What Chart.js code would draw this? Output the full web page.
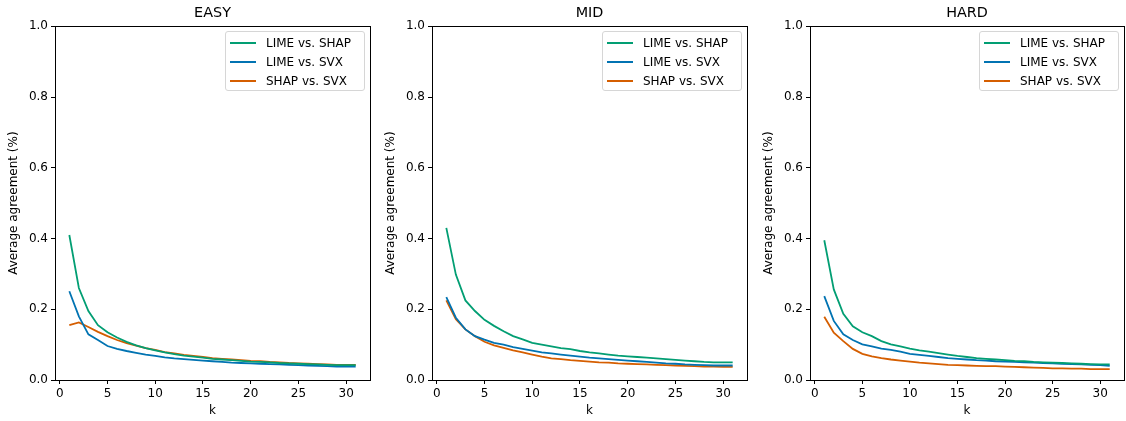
<!DOCTYPE html>
<html>
<head>
<meta charset="utf-8">
<script src="https://cdn.jsdelivr.net/npm/chart.js@4/dist/chart.umd.min.js"></script>
<style>
  body { margin: 0; background: #fff; }
  #wrap { position: relative; width: 1126px; height: 421px; overflow: hidden; font-family: "DejaVu Sans", sans-serif; }
  .panel { position: absolute; top: 0; height: 421px; }
  .legend {
    position: absolute; top: 31px; width: 138px; height: 58px;
    border: 1px solid #d6d6d6; border-radius: 3px; background: rgba(255,255,255,0.85);
    font-size: 12px; color: #000;
  }
  .legend .row { position: absolute; left: 0; height: 14px; line-height: 14px; white-space: nowrap; }
  .legend .sw { position: absolute; left: 4px; top: 6px; width: 26px; height: 2px; }
  .legend .lb { position: absolute; left: 40px; top: 0; }
</style>
</head>
<body>
<div id="wrap"></div>
<script>
// --- data ---
const kValues = [1,2,3,4,5,6,7,8,9,10,11,12,13,14,15,16,17,18,19,20,21,22,23,24,25,26,27,28,29,30,31];
const seriesNames = ['LIME vs. SHAP', 'LIME vs. SVX', 'SHAP vs. SVX'];
const panelTitles = ['EASY', 'MID', 'HARD'];
const yTicks = [0, 0.2, 0.4, 0.6, 0.8, 1.0];

const easyLimeShap = [0.41,0.26,0.195,0.155,0.135,0.12,0.108,0.098,0.09,0.084,0.078,0.073,0.069,0.066,0.063,0.060,0.058,0.056,0.054,0.052,0.051,0.050,0.048,0.047,0.046,0.045,0.044,0.043,0.042,0.042,0.042];
const easyLimeSvx  = [0.251,0.18,0.129,0.113,0.096,0.088,0.082,0.077,0.072,0.068,0.064,0.061,0.059,0.057,0.055,0.053,0.051,0.049,0.048,0.047,0.046,0.045,0.044,0.043,0.042,0.041,0.040,0.039,0.038,0.038,0.038];
const easyShapSvx  = [0.155,0.163,0.15,0.136,0.124,0.113,0.104,0.097,0.09,0.085,0.079,0.075,0.071,0.068,0.065,0.062,0.060,0.058,0.056,0.054,0.053,0.051,0.050,0.048,0.047,0.046,0.045,0.044,0.043,0.043,0.043];

const midLimeShap = [0.43,0.298,0.225,0.195,0.17,0.153,0.138,0.124,0.115,0.105,0.100,0.095,0.090,0.087,0.082,0.078,0.075,0.072,0.069,0.067,0.065,0.063,0.061,0.059,0.057,0.055,0.053,0.051,0.050,0.050,0.050];
const midLimeSvx  = [0.234,0.176,0.143,0.124,0.114,0.105,0.100,0.093,0.088,0.083,0.078,0.075,0.072,0.069,0.066,0.063,0.061,0.059,0.057,0.055,0.053,0.051,0.049,0.047,0.046,0.044,0.043,0.042,0.041,0.041,0.041];
const midShapSvx  = [0.225,0.172,0.143,0.124,0.108,0.098,0.091,0.084,0.078,0.072,0.066,0.061,0.059,0.056,0.054,0.052,0.050,0.049,0.047,0.046,0.045,0.044,0.043,0.042,0.041,0.040,0.039,0.038,0.038,0.037,0.037];

const hardLimeShap = [0.395,0.256,0.187,0.152,0.135,0.124,0.11,0.101,0.095,0.089,0.084,0.080,0.076,0.072,0.068,0.065,0.062,0.060,0.058,0.056,0.054,0.053,0.051,0.050,0.049,0.048,0.047,0.046,0.045,0.044,0.044];
const hardLimeSvx  = [0.237,0.167,0.129,0.113,0.101,0.095,0.089,0.085,0.080,0.074,0.071,0.068,0.065,0.062,0.060,0.058,0.056,0.055,0.053,0.052,0.051,0.050,0.049,0.048,0.047,0.046,0.045,0.044,0.043,0.042,0.040];
const hardShapSvx  = [0.179,0.134,0.11,0.088,0.074,0.067,0.062,0.058,0.055,0.052,0.049,0.047,0.045,0.043,0.042,0.041,0.040,0.039,0.039,0.038,0.037,0.036,0.035,0.034,0.033,0.033,0.032,0.032,0.031,0.031,0.031];

const panelData = [
  [easyLimeShap, easyLimeSvx, easyShapSvx],
  [midLimeShap, midLimeSvx, midShapSvx],
  [hardLimeShap, hardLimeSvx, hardShapSvx]
];

// --- styling ---
const COLORS = ['#029e73', '#0173b2', '#d55e00'];
const PANEL_LEFT = [0, 377, 755];
const PANEL_WIDTH = [372, 372, 371];
const Y_AXIS_W = 55;
const X_AXIS_H = 41;
const FONT = '"DejaVu Sans", sans-serif';

Chart.defaults.font.family = FONT;
Chart.defaults.color = '#000';

// full box around the plot area (matplotlib spines)
const frame = {
  id: 'frame',
  afterDatasetsDraw(chart) {
    const a = chart.chartArea, ctx = chart.ctx;
    ctx.save();
    ctx.strokeStyle = '#000';
    ctx.lineWidth = 1;
    ctx.strokeRect(Math.round(a.left) + 0.5, Math.round(a.top) + 0.5,
                   Math.round(a.right - a.left), Math.round(a.bottom - a.top));
    ctx.restore();
  }
};

const wrap = document.getElementById('wrap');

panelTitles.forEach((title, p) => {
  const div = document.createElement('div');
  div.className = 'panel';
  div.style.left = PANEL_LEFT[p] + 'px';
  div.style.width = PANEL_WIDTH[p] + 'px';
  const canvas = document.createElement('canvas');
  div.appendChild(canvas);
  wrap.appendChild(div);

  new Chart(canvas, {
    type: 'line',
    data: {
      datasets: seriesNames.map((name, i) => ({
        label: name,
        data: kValues.map((k, j) => ({ x: k, y: panelData[p][i][j] })),
        borderColor: COLORS[i],
        backgroundColor: COLORS[i],
        borderWidth: 1.8,
        pointRadius: 0,
        tension: 0,
        fill: false
      }))
    },
    options: {
      responsive: true,
      maintainAspectRatio: false,
      animation: false,
      layout: { padding: { left: 0, right: 2, top: 0, bottom: 0 } },
      plugins: {
        legend: { display: false },
        tooltip: { enabled: false },
        title: {
          display: true,
          text: title,
          fullSize: false,   // centre over the plot area, not the whole canvas
          color: '#000',
          font: { size: 14.4, weight: 'normal', family: FONT },
          padding: { top: 5, bottom: 4 }
        }
      },
      scales: {
        x: {
          type: 'linear',
          min: -0.5,
          max: 32.5,
          afterFit: s => { s.height = X_AXIS_H; },
          border: { display: false },
          grid: { drawOnChartArea: false, drawTicks: true, tickLength: 4, color: '#000' },
          ticks: { stepSize: 5, includeBounds: false, padding: 3, maxRotation: 0,
                   font: { size: 12, family: FONT }, color: '#000' },
          title: { display: true, text: 'k', font: { size: 12, family: FONT }, color: '#000',
                   padding: { top: 0, bottom: 3 } }
        },
        y: {
          min: 0,
          max: 1,
          afterFit: s => { s.width = Y_AXIS_W; },
          afterBuildTicks: s => { s.ticks = yTicks.map(v => ({ value: v })); },
          border: { display: false },
          grid: { drawOnChartArea: false, drawTicks: true, tickLength: 4, color: '#000' },
          ticks: { padding: 3, font: { size: 12, family: FONT }, color: '#000',
                   callback: v => Number(v).toFixed(1) },
          title: { display: true, text: 'Average agreement (%)', font: { size: 12, family: FONT },
                   color: '#000', padding: { top: 7, bottom: 0 } }
        }
      }
    },
    plugins: [frame]
  });

  // legend box in the upper right corner of the plot area
  const leg = document.createElement('div');
  leg.className = 'legend';
  leg.style.left = (PANEL_LEFT[p] + PANEL_WIDTH[p] - 2 - 5 - 140) + 'px';
  seriesNames.forEach((name, i) => {
    const row = document.createElement('div');
    row.className = 'row';
    row.style.top = (4 + i * 19) + 'px';
    row.innerHTML = '<span class="sw" style="background:' + COLORS[i] + '"></span><span class="lb">' + name + '</span>';
    leg.appendChild(row);
  });
  wrap.appendChild(leg);
});
</script>
</body>
</html>
